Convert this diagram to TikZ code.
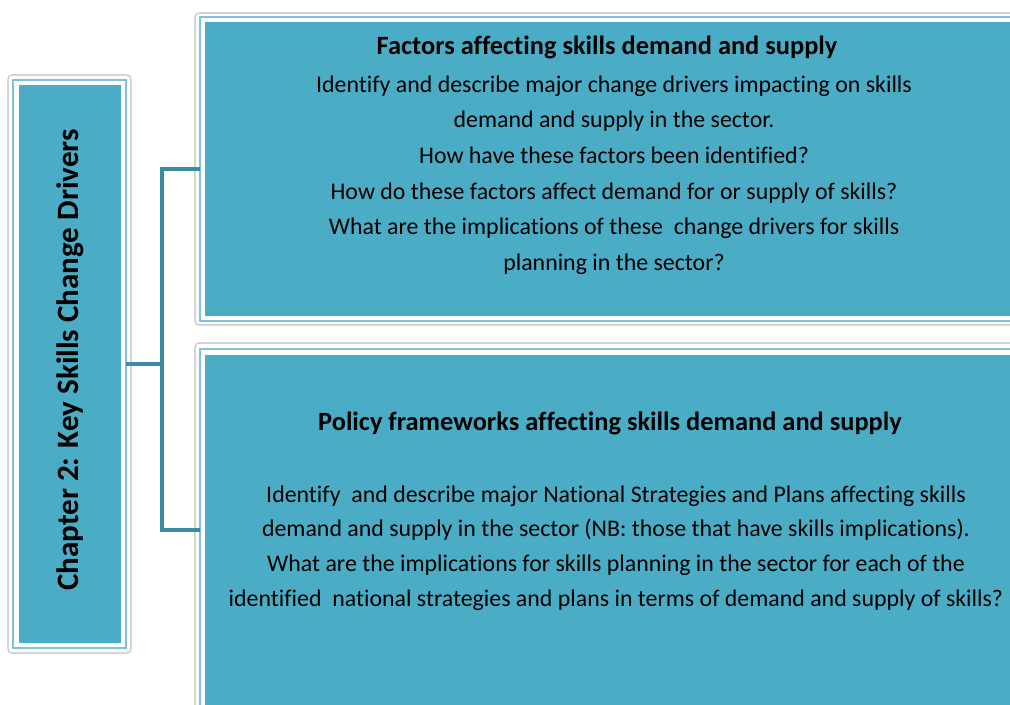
\documentclass[tikz,border=0pt]{standalone}
\usepackage{fontspec}
\setmainfont{Carlito}[Ligatures=NoCommon]
\usepackage{xcolor}
\usepackage{tikz}

\definecolor{boxteal}{HTML}{4BACC6}
\definecolor{ringblue}{HTML}{7FC4D6}
\definecolor{linkteal}{HTML}{3A8CA3}

\begin{document}
\begin{tikzpicture}[
    x=0.75pt, y=-0.75pt,
    every node/.style={align=center},
    frame/.style={
        rectangle,
        rounded corners=3pt,
        draw=black!25,
        fill=white,
        line width=0.8pt,
        inner sep=0pt,
        outer sep=0pt
    },
    ring/.style={
        rectangle,
        draw=ringblue,
        fill=white,
        line width=1pt,
        inner sep=0pt,
        outer sep=0pt
    },
    tealbox/.style={
        rectangle,
        fill=boxteal,
        inner sep=0pt,
        outer sep=0pt
    },
    head/.style={font=\fontsize{19.8}{22}\selectfont\bfseries},
    body/.style={font=\fontsize{17.9}{26.7}\selectfont},
    link/.style={draw=linkteal, line width=2.5pt},
]
\useasboundingbox (0,0) rectangle (1010,704);
\clip (0,0) rectangle (1010,704);

% Left box
\node[frame, minimum width=92.25pt, minimum height=433.5pt] (chapterframe) at (69.5,364) {};
\node[ring, minimum width=84.75pt, minimum height=426pt] (chapterring) at (69.5,364) {};
\node[tealbox, minimum width=76.5pt, minimum height=418.5pt] (chapter) at (69.5,364) {};
\node[rotate=90, font=\fontsize{23.3}{26}\selectfont\bfseries] (chaptertext) at (70,360)
    {Chapter 2: Key Skills Change Drivers};

% Top box
\node[frame, minimum width=625.5pt, minimum height=234pt] (factorsframe) at (612,169) {};
\node[ring, minimum width=618pt, minimum height=228pt] (factorsring) at (612,169) {};
\node[tealbox, minimum width=610.5pt, minimum height=220.5pt] (factors) at (612,169) {};
\node[head] (factorstitle) at (607,47) {Factors affecting skills demand and supply};
\node[body] (factorsbody) at (614,175) {Identify and describe major change drivers impacting on skills\\
    demand and supply in the sector.\\
    How have these factors been identified?\\
    How do these factors affect demand for or supply of skills?\\
    What are the implications of these\ \ change drivers for skills\\
    planning in the sector?};

% Bottom box
\node[frame, minimum width=625.5pt, minimum height=280.5pt] (policyframe) at (612,530) {};
\node[ring, minimum width=618pt, minimum height=271.5pt] (policyring) at (612,530) {};
\node[tealbox, minimum width=610.5pt, minimum height=262.5pt] (policy) at (612,530) {};
\node[head] (policytitle) at (610,423) {Policy frameworks affecting skills demand and supply};
\node[body, font=\fontsize{17.9}{26}\selectfont] (policybody) at (616,548) {Identify\ \ and describe major National Strategies and Plans affecting skills\\
    demand and supply in the sector (NB: those that have skills implications).\\
    What are the implications for skills planning in the sector for each of the\\
    identified\ \ national strategies and plans in terms of demand and supply of skills?};

% Connections
\draw[link] (chapterring.east) -- +(36,0) |- (factorsring.west);
\draw[link] (chapterring.east) -- +(36,0) |- (policyring.west);

\end{tikzpicture}
\end{document}
